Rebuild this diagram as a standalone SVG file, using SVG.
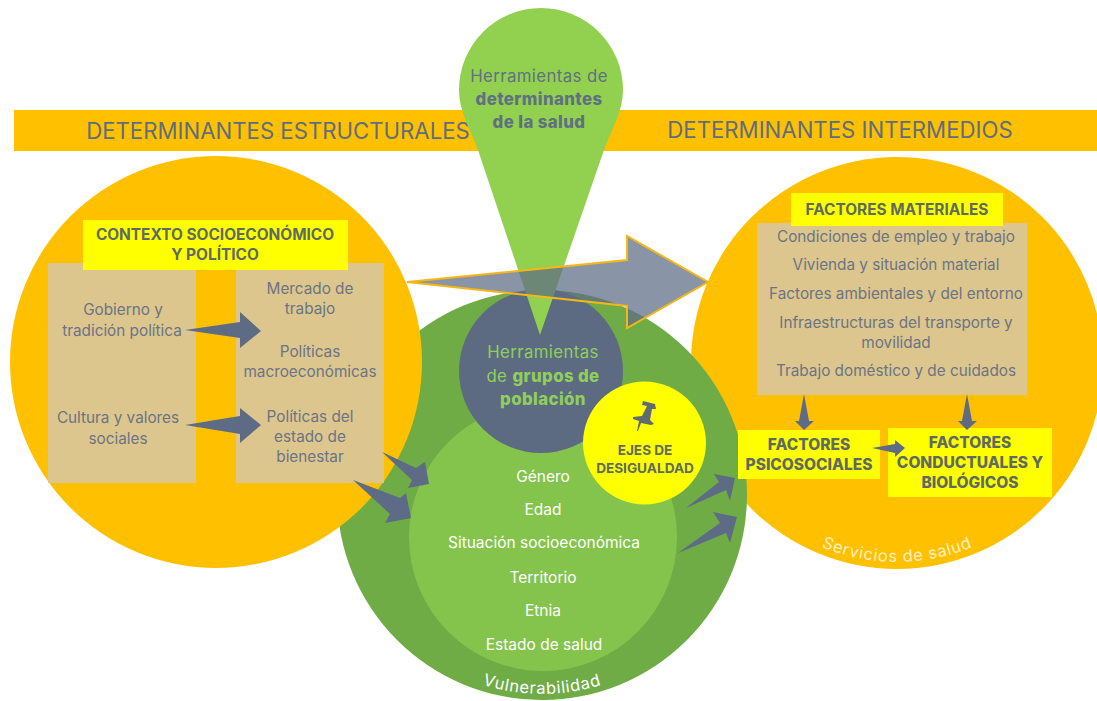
<svg xmlns="http://www.w3.org/2000/svg" width="1097" height="701" viewBox="0 0 1097 701">
<style>
text{font-family:"Inter","Noto Sans","Liberation Sans",sans-serif;text-anchor:middle}
.o{fill:#ffc000}
.tan{fill:#dcc68d}
.yb{fill:#ffff00}
.ar{fill:#5d6b85}
.h{font-size:22.2px;fill:#5f6d80}
.t{font-size:15.3px;fill:#6b7485}
.y{font-size:15.4px;font-weight:700;fill:#5e6b62}
.y2{font-size:15.5px;font-weight:800;fill:#5e6b62}
.w{font-size:15.5px;fill:#fff}
.g{font-size:16.8px;fill:#8fcf5a;letter-spacing:.4px}
.p{font-size:16.8px;fill:#5f7080;letter-spacing:.4px}
.b{font-weight:800}
.c{fill:#ffefc0;font-size:16.5px;letter-spacing:.7px}
</style>
<defs>
<path id="arcS" d="M707 422A199 199 0 0 0 1087 422"/>
<path id="arcV" d="M345 523A199 199 0 0 0 739 523"/>
</defs>
<rect id="banda" class="o" x="14" y="110" width="1083" height="41"/>
<text class="h" x="278" y="139">DETERMINANTES ESTRUCTURALES</text>
<text class="h" x="840" y="138">DETERMINANTES INTERMEDIOS</text>

<g id="intermedios">
<circle class="o" cx="897" cy="363" r="206"/>
<text class="c"><textPath href="#arcS" startOffset="50%">Servicios de salud</textPath></text>
</g>
<g id="vulnerabilidad">
<circle cx="542" cy="495" r="205" fill="#6fac46"/>
<text class="c" style="fill:#fff"><textPath href="#arcV" startOffset="50%">Vulnerabilidad</textPath></text>
</g>
<g id="estructurales">
<circle class="o" cx="216" cy="362" r="206"/>
<rect class="tan" x="48" y="263" width="148" height="220"/>
<rect class="tan" x="236" y="263" width="148" height="220"/>
<rect class="yb" x="83" y="220" width="265" height="50"/>
<text class="y"><tspan x="215" y="240">CONTEXTO SOCIOECONÓMICO</tspan><tspan x="215" y="260">Y POLÍTICO</tspan></text>
<text class="t"><tspan x="123" y="315">Gobierno y</tspan><tspan x="122" y="336">tradición política</tspan></text>
<text class="t"><tspan x="118" y="423">Cultura y valores</tspan><tspan x="118" y="444">sociales</tspan></text>
<text class="t"><tspan x="310" y="294">Mercado de</tspan><tspan x="310" y="314">trabajo</tspan></text>
<text class="t"><tspan x="310" y="357">Políticas</tspan><tspan x="310" y="377">macroeconómicas</tspan></text>
<text class="t"><tspan x="310" y="422">Políticas del</tspan><tspan x="310" y="442">estado de</tspan><tspan x="310" y="462">bienestar</tspan></text>
</g>
<g id="grupos">
<circle cx="543" cy="537" r="134" fill="#84c44c"/>
<circle cx="541" cy="371" r="82" fill="#5d6b82"/>
<text class="g"><tspan x="543" y="358">Herramientas</tspan><tspan x="543" y="382">de <tspan class="b">grupos de</tspan></tspan><tspan x="543" y="405" class="b">población</tspan></text>
<text class="w"><tspan x="543" y="482">Género</tspan><tspan x="543" y="515">Edad</tspan><tspan x="544" y="548">Situación socioeconómica</tspan><tspan x="543" y="583">Territorio</tspan><tspan x="543" y="616">Etnia</tspan><tspan x="544" y="650">Estado de salud</tspan></text>
</g>
<g id="herramientas">
<path d="M540 335L478 150C470 128 459 112 459 90A82 82 0 0 1 623 90C623 112 612 128 604 150Z" fill="#92d050"/>
<text class="p"><tspan x="539" y="82">Herramientas de</tspan><tspan x="539" y="105" class="b">determinantes</tspan><tspan x="539" y="128" class="b">de la salud</tspan></text>
</g>
<g id="flecha-central">
<path d="M407 282L627 260V236L708 282L627 328V306Z" fill="#5d6b85" fill-opacity=".72" stroke="#f5b718" stroke-width="2"/>
</g>
<g id="materiales">
<rect class="tan" x="757" y="223" width="270" height="172"/>
<rect class="yb" x="791" y="193" width="212" height="33"/>
<text class="y"  x="897" y="215">FACTORES MATERIALES</text>
<text class="t"><tspan x="896" y="242">Condiciones de empleo y trabajo</tspan><tspan x="896" y="270">Vivienda y situación material</tspan><tspan x="896" y="299">Factores ambientales y del entorno</tspan><tspan x="896" y="328">Infraestructuras del transporte y</tspan><tspan x="896" y="348">movilidad</tspan><tspan x="896" y="376">Trabajo doméstico y de cuidados</tspan></text>
</g>
<g id="psicosociales">
<rect class="yb" x="738" y="430" width="142" height="49"/>
<text class="y2"><tspan x="809" y="450">FACTORES</tspan><tspan x="809" y="470">PSICOSOCIALES</tspan></text>
</g>
<g id="conductuales">
<rect class="yb" x="888" y="428" width="164" height="69"/>
<text class="y2"><tspan x="970" y="448">FACTORES</tspan><tspan x="970" y="468">CONDUCTUALES Y</tspan><tspan x="970" y="488">BIOLÓGICOS</tspan></text>
</g>
<g id="ejes">
<circle class="yb" cx="644.5" cy="443" r="61.5"/>
<path class="ar" style="fill:#5f6b70" d="M643 401L655 404L656 409L652 409L650 420L654 424L651 425L641 423L638 431L637 431L639 421L633 419L633 417L642 416L647 406L642 405Z"/>
<text class="y" style="font-size:13.6px"><tspan x="645" y="455">EJES DE</tspan><tspan x="645" y="473">DESIGUALDAD</tspan></text>
</g>
<g id="conectores" class="ar">
<path d="M185 330L240 322V312L261 331L240 348V338Z"/>
<path d="M185 425L240 416V408L261 425L240 443V434Z"/>
<path d="M382 452L416 468L425 462L429 484L408 488L412 480Z"/>
<path d="M353 480L400 498L406 493L411 518L385 523L390 514Z"/>
<path d="M686 508L719 482L714 474L735 478L730 501L726 490Z"/>
<path d="M678 553L720 523L713 512L737 517L730 543L726 533Z"/>
<path d="M804 394L809 421H814L804 430L795 421H799Z"/>
<path d="M967 394L972 421H977L967 430L958 421H962Z"/>
<path d="M872 448L895 444V440L905 448L895 457V453Z"/>
</g>
</svg>
